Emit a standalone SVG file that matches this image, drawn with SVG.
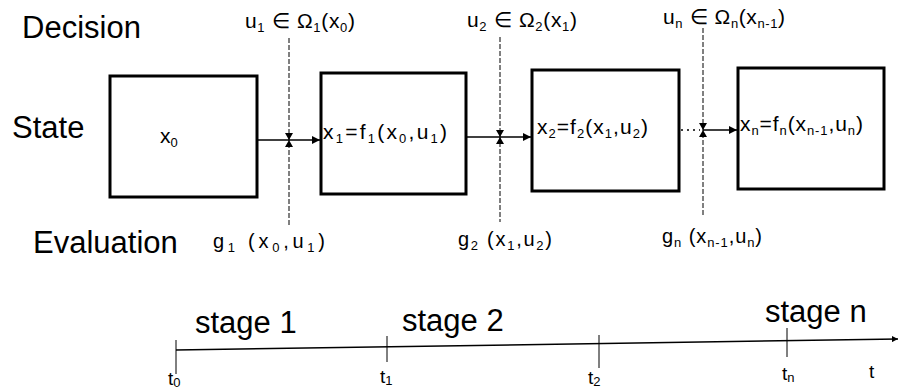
<svg xmlns="http://www.w3.org/2000/svg" width="899" height="392" viewBox="0 0 899 392">
<style>
.lbl{font-family:"Liberation Sans",Arial,sans-serif;font-size:31px;fill:#000}
.m{font-family:"Liberation Sans",Arial,sans-serif;font-size:21px;fill:#000}
.mb{font-family:"Liberation Sans",Arial,sans-serif;font-size:20px;fill:#000}
.t{font-family:"Liberation Sans",Arial,sans-serif;font-size:19px;fill:#000}
.s{font-size:13px}
.box{fill:none;stroke:#000;stroke-width:3}
.dash{stroke:#000;stroke-width:1;stroke-dasharray:5 2;fill:none}
.flow{stroke:#000;stroke-width:1.5;fill:none}
.dot{stroke:#000;stroke-width:1.5;stroke-dasharray:2 4;fill:none}
.axis{stroke:#000;stroke-width:1.5;fill:none}
.tick{stroke:#000;stroke-width:1;fill:none}
</style>
<defs>
<marker id="ah" viewBox="0 0 8 8" refX="8" refY="4" markerWidth="8" markerHeight="8" markerUnits="userSpaceOnUse" orient="auto">
<path d="M0,0 L8,4 L0,8 Z" fill="#000"/>
</marker>
<marker id="ah2" viewBox="0 0 6 6" refX="6" refY="3" markerWidth="6" markerHeight="6" markerUnits="userSpaceOnUse" orient="auto">
<path d="M0,0 L6,3 L0,6 Z" fill="#000"/>
</marker>
<path id="bow" d="M-4,-7 L4,-7 L0,0 Z M-4,7 L4,7 L0,0 Z" fill="#000"/>
</defs>
<rect width="899" height="392" fill="#fff"/>

<g id="row-labels">
<text class="lbl" x="22" y="38">Decision</text>
<text class="lbl" x="12" y="138">State</text>
<text class="lbl" x="33" y="253">Evaluation</text>
</g>

<g id="node-x0">
<rect class="box" x="110" y="76" width="147" height="121"/>
<text class="m" x="160" y="143">x<tspan class="s" dy="4">0</tspan></text>
</g>
<g id="node-x1">
<rect class="box" x="321" y="73" width="145" height="121"/>
<text class="m" x="323" y="139" textLength="124" lengthAdjust="spacing">x<tspan class="s" dy="4">1</tspan><tspan dy="-4">=f</tspan><tspan class="s" dy="4">1</tspan><tspan dy="-4">(x</tspan><tspan class="s" dy="4">0</tspan><tspan dy="-4">,u</tspan><tspan class="s" dy="4">1</tspan><tspan dy="-4">)</tspan></text>
</g>
<g id="node-x2">
<rect class="box" x="532" y="70" width="147" height="121"/>
<text class="m" x="537" y="134" textLength="111" lengthAdjust="spacing">x<tspan class="s" dy="4">2</tspan><tspan dy="-4">=f</tspan><tspan class="s" dy="4">2</tspan><tspan dy="-4">(x</tspan><tspan class="s" dy="4">1</tspan><tspan dy="-4">,u</tspan><tspan class="s" dy="4">2</tspan><tspan dy="-4">)</tspan></text>
</g>
<g id="node-xn">
<rect class="box" x="738" y="68" width="146" height="121"/>
<text class="m" x="740" y="131" textLength="123" lengthAdjust="spacing">x<tspan class="s" dy="4">n</tspan><tspan dy="-4">=f</tspan><tspan class="s" dy="4">n</tspan><tspan dy="-4">(x</tspan><tspan class="s" dy="4">n-1</tspan><tspan dy="-4">,u</tspan><tspan class="s" dy="4">n</tspan><tspan dy="-4">)</tspan></text>
</g>

<g id="decision-labels">
<text class="m" x="245" y="28" textLength="110" lengthAdjust="spacing">u<tspan class="s" dy="4">1</tspan><tspan dy="-4"> ∈ Ω</tspan><tspan class="s" dy="4">1</tspan><tspan dy="-4">(x</tspan><tspan class="s" dy="4">0</tspan><tspan dy="-4">)</tspan></text>
<text class="m" x="467" y="27" textLength="110" lengthAdjust="spacing">u<tspan class="s" dy="4">2</tspan><tspan dy="-4"> ∈ Ω</tspan><tspan class="s" dy="4">2</tspan><tspan dy="-4">(x</tspan><tspan class="s" dy="4">1</tspan><tspan dy="-4">)</tspan></text>
<text class="m" x="663" y="24" textLength="122" lengthAdjust="spacing">u<tspan class="s" dy="4">n</tspan><tspan dy="-4"> ∈ Ω</tspan><tspan class="s" dy="4">n</tspan><tspan dy="-4">(x</tspan><tspan class="s" dy="4">n-1</tspan><tspan dy="-4">)</tspan></text>
</g>

<g id="evaluation-labels">
<text class="mb" x="213" y="248" textLength="112" lengthAdjust="spacing">g<tspan class="s" dy="4">1</tspan><tspan dy="-4"> (x</tspan><tspan class="s" dy="4">0</tspan><tspan dy="-4">,u</tspan><tspan class="s" dy="4">1</tspan><tspan dy="-4">)</tspan></text>
<text class="mb" x="458" y="246" textLength="94" lengthAdjust="spacing">g<tspan class="s" dy="4">2</tspan><tspan dy="-4"> (x</tspan><tspan class="s" dy="4">1</tspan><tspan dy="-4">,u</tspan><tspan class="s" dy="4">2</tspan><tspan dy="-4">)</tspan></text>
<text class="mb" x="662" y="243" textLength="100" lengthAdjust="spacing">g<tspan class="s" dy="4">n</tspan><tspan dy="-4"> (x</tspan><tspan class="s" dy="4">n-1</tspan><tspan dy="-4">,u</tspan><tspan class="s" dy="4">n</tspan><tspan dy="-4">)</tspan></text>
</g>

<g id="connectors">
<line class="dash" x1="289" y1="38" x2="289" y2="227"/>
<line class="dash" x1="500" y1="37" x2="500" y2="222"/>
<line class="dash" x1="703" y1="28" x2="703" y2="215"/>
<line class="flow" x1="258" y1="140" x2="320" y2="140" marker-end="url(#ah)"/>
<line class="flow" x1="467" y1="137" x2="531" y2="137" marker-end="url(#ah)"/>
<line class="dot" x1="681" y1="130" x2="700" y2="130"/>
<line class="flow" x1="703" y1="130" x2="737" y2="130" marker-end="url(#ah)"/>
<use href="#bow" x="289" y="140"/>
<use href="#bow" x="500" y="137"/>
<use href="#bow" x="703" y="130"/>
</g>

<g id="timeline">
<line class="axis" x1="176" y1="350" x2="898" y2="339" marker-end="url(#ah2)"/>
<line class="tick" x1="176" y1="340" x2="176" y2="374"/>
<line class="tick" x1="387" y1="336" x2="387" y2="362"/>
<line class="tick" x1="599" y1="335" x2="599" y2="368"/>
<line class="tick" x1="787" y1="328" x2="787" y2="357"/>
<text class="lbl" x="195" y="333">stage 1</text>
<text class="lbl" x="402" y="331">stage 2</text>
<text class="lbl" x="765" y="322">stage n</text>
<text class="t" x="168" y="385">t<tspan class="s" dy="2">0</tspan></text>
<text class="t" x="380" y="383">t<tspan class="s" dy="2">1</tspan></text>
<text class="t" x="588" y="384">t<tspan class="s" dy="2">2</tspan></text>
<text class="t" x="782" y="380">t<tspan class="s" dy="2">n</tspan></text>
<text class="t" x="869" y="378">t</text>
</g>
</svg>
